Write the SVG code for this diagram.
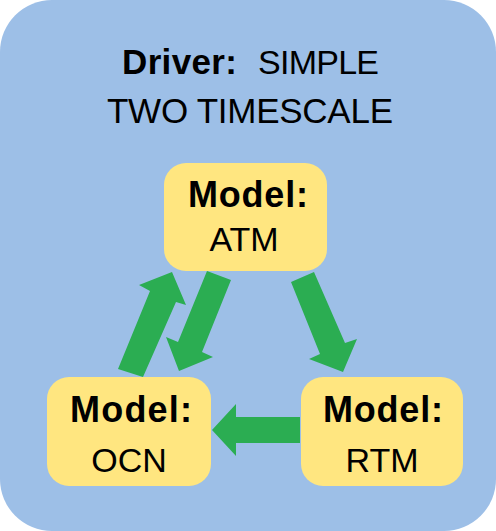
<svg xmlns="http://www.w3.org/2000/svg" width="496" height="531" viewBox="0 0 496 531">
<style>
.bg{fill:#9dbfe7}
.node{fill:#ffe680}
.arrow{fill:#2bad52}
text{font-family:"Liberation Sans",Arial,sans-serif;fill:#000;text-anchor:middle}
text.s{text-anchor:start}
.b{font-weight:bold}
</style>
<rect class="bg" x="0" y="0" width="496" height="531" rx="52" ry="52"/>
<g id="title">
<text class="s b" x="122" y="74" font-size="35" textLength="115">Driver:</text>
<text class="s" x="258" y="74" font-size="34" textLength="121">SIMPLE</text>
<text x="250" y="123" font-size="35" textLength="286">TWO TIMESCALE</text>
</g>
<g id="connectors">
<polygon class="arrow" points="300,417 236,417 236,404 212,430 236,456 236,443 300,443"/>
<polygon class="arrow" points="118,369 143,377 176,302 186,305 172,272 139,285 150,291"/>
<polygon class="arrow" points="231,280 207,271 178,342 166,337 179,371 213,357 202,352"/>
<polygon class="arrow" points="291,282 314,272 345,343 357,339 343,372 309,359 320,354"/>
</g>
<g id="atm">
<rect class="node" x="164" y="163" width="163" height="108" rx="22"/>
<text class="b" x="248" y="207" font-size="36" textLength="120">Model:</text>
<text x="244" y="251" font-size="34">ATM</text>
</g>
<g id="ocn">
<rect class="node" x="47" y="377" width="164" height="109" rx="22"/>
<text class="b" x="131" y="422" font-size="36" textLength="122">Model:</text>
<text x="129" y="472" font-size="34">OCN</text>
</g>
<g id="rtm">
<rect class="node" x="301" y="377" width="162" height="109" rx="22"/>
<text class="b" x="383" y="422" font-size="36" textLength="120">Model:</text>
<text x="382" y="472" font-size="34">RTM</text>
</g>
</svg>
